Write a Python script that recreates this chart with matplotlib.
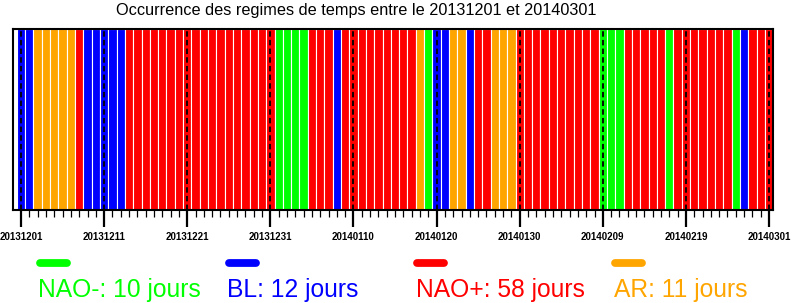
import matplotlib
matplotlib.use("Agg")
import matplotlib.pyplot as plt
from matplotlib.lines import Line2D

# ---- data ----
start_date = "20131201"
end_date = "20140301"
regime_names = ["NAO-", "BL", "NAO+", "AR"]
regime_colors = {"NAO-": "#00ff00", "BL": "#0000ff", "NAO+": "#ff0000", "AR": "#ffa500"}
# one regime per day, 20131201 .. 20140301 (91 days)
daily_regime = (
    ["BL"] * 2 + ["AR"] * 5 + ["NAO+"] + ["BL"] * 5 +          # days 0-12
    ["NAO+"] * 18 +                                             # 13-30
    ["NAO-"] * 4 + ["NAO+"] * 3 + ["BL"] +                      # 31-38
    ["NAO+"] * 9 + ["AR"] + ["NAO-"] + ["BL"] * 2 +             # 39-51
    ["AR"] * 2 + ["BL"] + ["NAO+"] * 2 + ["AR"] * 3 +           # 52-59
    ["NAO+"] * 10 + ["NAO-"] * 3 + ["NAO+"] * 5 + ["NAO-"] +    # 60-78
    ["NAO+"] * 7 + ["NAO-"] + ["BL"] + ["NAO+"] * 3             # 79-90
)
major_labels = ["20131201", "20131211", "20131221", "20131231", "20140110",
                "20140120", "20140130", "20140209", "20140219", "20140301"]

n_days = len(daily_regime)
counts = {r: daily_regime.count(r) for r in regime_names}

W, H = 792, 303
fig = plt.figure(figsize=(W / 100, H / 100), dpi=100)
ax = fig.add_axes([12.7 / W, 1 - 210 / H, (773.2 - 12.7) / W, (210 - 29) / H])

days = list(range(n_days))
ax.bar(days, [1] * n_days, width=1.0, bottom=0,
       color=[regime_colors[r] for r in daily_regime],
       edgecolor="white", linewidth=0.8, align="center")

major_pos = list(range(0, n_days, 10))
for p in major_pos:
    ax.axvline(p, color="black", lw=1.3, linestyle=(0, (3, 1.8)), zorder=3)

ax.set_xlim(-1.0, n_days - 0.5)
ax.set_ylim(0, 1)
ax.set_yticks([])
ax.set_xticks(major_pos)
ax.set_xticklabels(major_labels, fontsize=7, fontweight="bold", family="Liberation Sans")
ax.set_xticks([d for d in days if d not in major_pos], minor=True)
ax.tick_params(axis="x", which="major", direction="out", length=12.2, width=1.6, pad=3.5)
ax.tick_params(axis="x", which="minor", direction="out", length=5.2, width=0.9)
for s in ax.spines.values():
    s.set_linewidth(1.5)
    s.set_zorder(5)

fig.text(356 / W, 1 - 15.5 / H,
         "Occurrence des regimes de temps entre le %s et %s" % (start_date, end_date),
         ha="center", va="baseline", fontsize=11.7, family="Liberation Sans")

# legend
line_x = {"NAO-": 36, "BL": 224.5, "NAO+": 413, "AR": 611}
text_x = {"NAO-": 38.5, "BL": 227, "NAO+": 416, "AR": 614.5}
for r in regime_names:
    x0 = line_x[r] + 4
    x1 = line_x[r] + 35 - 4
    fig.add_artist(Line2D([x0 / W, x1 / W], [1 - 262.5 / H] * 2, color=regime_colors[r],
                          lw=5.6, solid_capstyle="round", transform=fig.transFigure))
    fig.text(text_x[r] / W, 1 - 297.5 / H, "%s: %d jours" % (r, counts[r]),
             color=regime_colors[r], fontsize=17.7, family="Liberation Sans",
             ha="left", va="baseline")

fig.savefig("out.png", dpi=100)
